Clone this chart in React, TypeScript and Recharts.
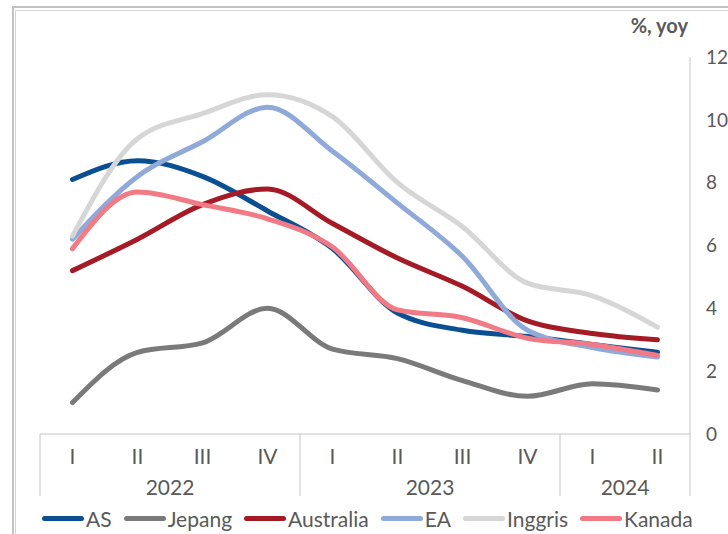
import { LineChart, Line, XAxis, YAxis } from "recharts";

const quarters = ["I", "II", "III", "IV", "I", "II", "III", "IV", "I", "II"];
const years = ["2022", "2022", "2022", "2022", "2023", "2023", "2023", "2023", "2024", "2024"];

const as = [8.1, 8.7, 8.2, 7.1, 5.9, 3.85, 3.3, 3.1, 2.85, 2.6];
const jepang = [1.0, 2.6, 2.9, 4.0, 2.7, 2.4, 1.7, 1.2, 1.6, 1.4];
const australia = [5.2, 6.2, 7.3, 7.8, 6.7, 5.6, 4.7, 3.6, 3.2, 3.0];
const ea = [6.2, 8.2, 9.3, 10.4, 9.0, 7.35, 5.65, 3.3, 2.75, 2.45];
const inggris = [6.3, 9.4, 10.2, 10.8, 10.1, 8.0, 6.6, 4.8, 4.4, 3.4];
const kanada = [5.9, 7.7, 7.3, 6.85, 5.95, 3.95, 3.7, 3.05, 2.85, 2.5];

const yTicks = [0, 2, 4, 6, 8, 10, 12];

const series = [
  { key: "AS", values: as, color: "#0b4f93" },
  { key: "Jepang", values: jepang, color: "#7a7a7a" },
  { key: "Australia", values: australia, color: "#a51b25" },
  { key: "EA", values: ea, color: "#8fa9d8" },
  { key: "Inggris", values: inggris, color: "#d6d6d6" },
  { key: "Kanada", values: kanada, color: "#f27a84" },
];

const data = quarters.map((q, i) => {
  const row: Record<string, string | number> = { id: `${years[i]}-${q}`, q, year: years[i] };
  series.forEach((s) => (row[s.key] = s.values[i]));
  return row;
});

const W = 728;
const H = 534;
const MARGIN = { top: 57, right: 0, bottom: 30, left: 40 };
const Y_AXIS_W = 38;
const BAND = (W - MARGIN.left - MARGIN.right - Y_AXIS_W) / quarters.length;
const GRID = "#c4c4c4";
const TEXT = "#595959";
const FONT = "Lato, 'Open Sans', sans-serif";
const FS = 21;

function QuarterTick(props: any) {
  const { x, y, payload } = props;
  const i = payload.index;
  const year = years[i];
  const first = i === 0 || years[i - 1] !== year;
  const last = i === years.length - 1;
  const n = years.filter((v) => v === year).length;
  return (
    <g>
      <text x={x} y={y + 21} textAnchor="middle" dominantBaseline="central" fontSize={FS} fill={TEXT} fontFamily={FONT}>
        {quarters[i]}
      </text>
      {first && (
        <>
          <line x1={x - BAND / 2} x2={x - BAND / 2} y1={y} y2={y + 62} stroke={GRID} />
          <text
            x={x + ((n - 1) / 2) * BAND}
            y={y + 52}
            textAnchor="middle"
            dominantBaseline="central"
            fontSize={FS}
            fill={TEXT}
            fontFamily={FONT}
          >
            {year}
          </text>
        </>
      )}
      {last && <line x1={x + BAND / 2} x2={x + BAND / 2} y1={y} y2={y + 62} stroke={GRID} />}
    </g>
  );
}

export default function App() {
  return (
    <div style={{ position: "fixed", left: 0, top: 0, width: W, height: H, overflow: "hidden", background: "#fff", fontFamily: FONT }}>
      <div style={{ position: "absolute", left: 12, top: 6, width: 800, height: 600, border: "2px solid #c2c2c2" }} />
      <div style={{ position: "absolute", left: 15, top: 10, width: 800, height: 600, borderLeft: "1px solid #d4d4d4", borderTop: "1px solid #d4d4d4" }} />
      <div style={{ position: "absolute", right: 40, top: 12, fontSize: 20, fontWeight: 700, color: TEXT, lineHeight: "26px" }}>%, yoy</div>
      <div style={{ position: "absolute", left: 0, top: 0 }}>
        <LineChart width={W} height={H} data={data} margin={MARGIN}>
          <XAxis
            dataKey="id"
            interval={0}
            tickLine={false}
            tickSize={0}
            tickMargin={0}
            padding={{ left: BAND / 2, right: BAND / 2 }}
            axisLine={{ stroke: GRID }}
            height={70}
            tick={<QuarterTick />}
          />
          <YAxis
            orientation="right"
            domain={[0, 12]}
            ticks={yTicks}
            width={Y_AXIS_W}
            tickLine={false}
            axisLine={{ stroke: GRID }}
            tickMargin={10}
            tick={{ fontSize: 19, fill: TEXT, fontFamily: FONT }}
          />
          {series.map((s) => (
            <Line
              key={s.key}
              dataKey={s.key}
              type="monotone"
              stroke={s.color}
              strokeWidth={5}
              strokeLinecap="round"
              dot={false}
              activeDot={false}
              isAnimationActive={false}
            />
          ))}
        </LineChart>
      </div>
      <div style={{ position: "absolute", left: 42, top: 504, height: 28, display: "flex", alignItems: "center", fontSize: FS, color: TEXT, whiteSpace: "nowrap" }}>
        {series.map((s) => (
          <div key={s.key} style={{ display: "flex", alignItems: "center", marginRight: 12 }}>
            <div style={{ width: 42, height: 5, borderRadius: 3, background: s.color, marginRight: 2 }} />
            <span>{s.key}</span>
          </div>
        ))}
      </div>
    </div>
  );
}
